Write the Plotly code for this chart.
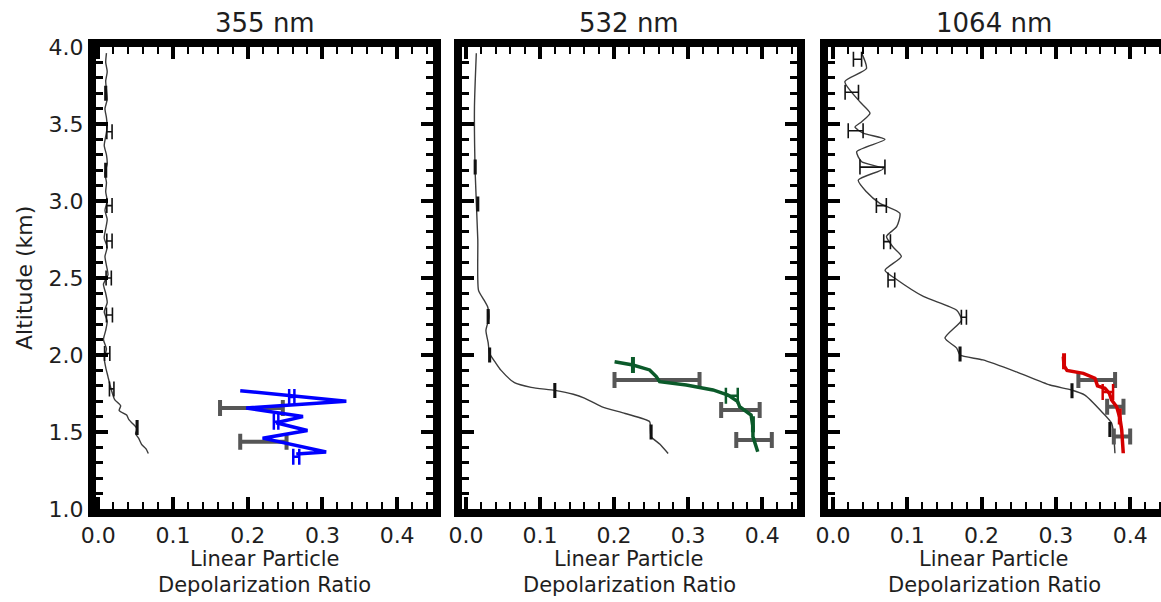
import plotly.graph_objects as go

# ---------------- data ----------------
# 355 nm: background profile (black) with its error bars
alt355_bg = [3.96, 3.90, 3.84, 3.78, 3.72, 3.66, 3.60, 3.54, 3.48, 3.42, 3.36, 3.30, 3.24, 3.18,
             3.12, 3.06, 3.00, 2.94, 2.88, 2.82, 2.76, 2.70, 2.64, 2.58, 2.52, 2.46, 2.40, 2.34,
             2.28, 2.22, 2.16, 2.10, 2.04, 1.98, 1.92, 1.86, 1.80, 1.75, 1.71, 1.67, 1.64, 1.61,
             1.58, 1.55, 1.52, 1.49, 1.46, 1.42, 1.39, 1.36]
dep355_bg = [0.011, 0.010, 0.012, 0.010, 0.011, 0.012, 0.009, 0.011, 0.012, 0.010, 0.008, 0.011,
             0.012, 0.009, 0.011, 0.010, 0.012, 0.009, 0.012, 0.010, 0.008, 0.012, 0.009, 0.011,
             0.013, 0.007, 0.010, 0.012, 0.008, 0.012, 0.010, 0.007, 0.011, 0.008, 0.010, 0.013,
             0.016, 0.019, 0.022, 0.030, 0.028, 0.038, 0.041, 0.047, 0.052, 0.050, 0.054, 0.058,
             0.064, 0.067]
alt355_err = [3.70, 3.45, 3.20, 2.97, 2.74, 2.50, 2.26, 2.01, 1.78, 1.53]
dep355_err = [0.010, 0.015, 0.010, 0.015, 0.015, 0.014, 0.015, 0.012, 0.018, 0.052]
err355_err = [0.001, 0.0035, 0.001, 0.0035, 0.0035, 0.0035, 0.004, 0.0035, 0.003, 0.001]

# 355 nm: highlighted layer (blue)
alt355 = [1.768, 1.700, 1.656, 1.600, 1.560, 1.510, 1.460, 1.370, 1.357]
dep355 = [0.190, 0.332, 0.198, 0.274, 0.238, 0.280, 0.220, 0.305, 0.265]
alt355_mark = [1.727, 1.567, 1.340]
dep355_mark = [0.259, 0.238, 0.265]
err355_mark = [0.0035, 0.003, 0.004]

# 355 nm: layer means (grey)
alt355_mean = [1.656, 1.437]
dep355_mean = [0.205, 0.221]
err355_mean = [0.042, 0.031]

# 532 nm: background profile
alt532_bg = [3.96, 3.61, 3.18, 2.75, 2.42, 2.36, 2.31, 2.24, 2.16, 2.08, 2.01, 1.95, 1.90,
             1.82, 1.79, 1.77, 1.745, 1.72, 1.665, 1.62, 1.567, 1.52, 1.47, 1.42, 1.36]
dep532_bg = [0.014, 0.0115, 0.0125, 0.016, 0.017, 0.024, 0.0295, 0.031, 0.027, 0.030, 0.032,
             0.040, 0.0475, 0.0655, 0.088, 0.120, 0.145, 0.160, 0.183, 0.215, 0.248, 0.249,
             0.250, 0.262, 0.273]
alt532_err = [3.22, 2.98, 2.25, 2.00, 1.77, 1.50]
dep532_err = [0.0125, 0.016, 0.030, 0.032, 0.120, 0.250]
err532_err = [0.001, 0.001, 0.001, 0.001, 0.001, 0.001]

# 532 nm: highlighted layer (green)
alt532 = [1.956, 1.935, 1.903, 1.860, 1.827, 1.805, 1.773, 1.740, 1.697, 1.665, 1.610,
          1.535, 1.470, 1.372]
dep532 = [0.2007, 0.2255, 0.248, 0.257, 0.2615, 0.2975, 0.3335, 0.354, 0.367, 0.3695,
          0.385, 0.3875, 0.3875, 0.394]
alt532_mark = [1.935, 1.736, 1.550]
dep532_mark = [0.2255, 0.359, 0.3875]
err532_mark = [0.001, 0.008, 0.001]

alt532_mean = [1.838, 1.643, 1.448]
dep532_mean = [0.258, 0.3706, 0.389]
err532_mean = [0.0574, 0.026, 0.024]

# 1064 nm: background profile
alt1064_bg = [3.96, 3.86, 3.775, 3.645, 3.57, 3.515, 3.48, 3.44, 3.40, 3.32, 3.255, 3.21,
              3.136, 3.06, 2.985, 2.92, 2.833, 2.77, 2.70, 2.64, 2.55, 2.49, 2.38, 2.29,
              2.227, 2.11, 2.045, 2.00, 1.968, 1.89, 1.805, 1.773, 1.74, 1.632, 1.556, 1.362]
dep1064_bg = [0.0386, 0.045, 0.016, 0.036, 0.0498, 0.0386, 0.0296, 0.0408, 0.070, 0.0319,
              0.0386, 0.0678, 0.034, 0.045, 0.063, 0.090, 0.0857, 0.072, 0.081, 0.092, 0.070,
              0.0857, 0.1216, 0.1665, 0.173, 0.1507, 0.1665, 0.171, 0.2019, 0.247, 0.292,
              0.321, 0.339, 0.3617, 0.3751, 0.3795]
alt1064_err = [3.92, 3.706, 3.456, 3.22, 2.97, 2.736, 2.487, 2.245, 2.006, 1.768, 1.517]
dep1064_err = [0.033, 0.0253, 0.0305, 0.0531, 0.0651, 0.0728, 0.0786, 0.1762, 0.171,
               0.3217, 0.3727]
err1064_err = [0.0055, 0.009, 0.010, 0.0168, 0.0067, 0.0045, 0.0045, 0.0034, 0.001,
               0.001, 0.001]

# 1064 nm: highlighted layer (red)
alt1064 = [1.989, 1.930, 1.900, 1.881, 1.849, 1.800, 1.784, 1.751, 1.708, 1.664, 1.589,
           1.513, 1.362]
dep1064 = [0.310, 0.311, 0.315, 0.337, 0.3526, 0.356, 0.366, 0.372, 0.375, 0.3818, 0.3863,
           0.3886, 0.3907]
alt1064_mark = [1.960, 1.760, 1.600]
dep1064_mark = [0.311, 0.370, 0.386]
err1064_mark = [0.001, 0.007, 0.001]

alt1064_mean = [1.838, 1.664, 1.470]
dep1064_mean = [0.355, 0.380, 0.389]
err1064_mean = [0.0247, 0.011, 0.011]

panel_titles = ["355 nm", "532 nm", "1064 nm"]
layer_colors = ["#0000ff", "#0b5a2a", "#d40000"]

# ---------------- figure ----------------
W, H = 1161, 602
FONT = "DejaVu Sans"
TXT = "#1e1e1e"

def px_x(p):
    return p / W

def px_y(p):
    return 1 - p / H

x_domains = [(px_x(96), px_x(433)), (px_x(461.5), px_x(797)), (px_x(827.5), 1.0)]
x_ranges = [(-0.003, 0.448), (-0.006, 0.447), (-0.0074, 0.4415)]
y_domain = (px_y(509), px_y(47))

panels = [
    (alt355_bg, dep355_bg, alt355_err, dep355_err, err355_err,
     alt355, dep355, alt355_mark, dep355_mark, err355_mark,
     alt355_mean, dep355_mean, err355_mean),
    (alt532_bg, dep532_bg, alt532_err, dep532_err, err532_err,
     alt532, dep532, alt532_mark, dep532_mark, err532_mark,
     alt532_mean, dep532_mean, err532_mean),
    (alt1064_bg, dep1064_bg, alt1064_err, dep1064_err, err1064_err,
     alt1064, dep1064, alt1064_mark, dep1064_mark, err1064_mark,
     alt1064_mean, dep1064_mean, err1064_mean),
]

fig = go.Figure()
clear = "rgba(0,0,0,0)"

for i, (abg, dbg, aerr, derr, eerr, alay, dlay, amk, dmk, emk, amn, dmn, emn) in enumerate(panels):
    xa = "x" if i == 0 else f"x{i + 1}"
    ya = "y" if i == 0 else f"y{i + 1}"
    col = layer_colors[i]
    # background profile
    fig.add_trace(go.Scatter(x=dbg, y=abg, mode="lines", xaxis=xa, yaxis=ya,
                             line=dict(color="#3c3c3c", width=1.4, shape="spline",
                                       smoothing=0.6),
                             showlegend=False))
    fig.add_trace(go.Scatter(x=derr, y=aerr, mode="markers", xaxis=xa, yaxis=ya,
                             marker=dict(color=clear, size=1),
                             error_x=dict(type="data", array=eerr, color="#111111",
                                          thickness=1.6, width=7.5),
                             showlegend=False))
    # layer mean values with spread
    fig.add_trace(go.Scatter(x=dmn, y=amn, mode="markers", xaxis=xa, yaxis=ya,
                             marker=dict(color=clear, size=1),
                             error_x=dict(type="data", array=emn, color="#565656",
                                          thickness=4, width=8),
                             showlegend=False))
    # layer profile
    fig.add_trace(go.Scatter(x=dlay, y=alay, mode="lines", xaxis=xa, yaxis=ya,
                             line=dict(color=col, width=3.5), showlegend=False))
    fig.add_trace(go.Scatter(x=dmk, y=amk, mode="markers", xaxis=xa, yaxis=ya,
                             marker=dict(color=clear, size=1),
                             error_x=dict(type="data", array=emk, color=col,
                                          thickness=2.5, width=8),
                             showlegend=False))

tickfont = dict(family=FONT, size=22, color=TXT)
common_x = dict(showline=True, linewidth=8, linecolor="black", mirror="ticks",
                ticks="inside", ticklen=12, tickwidth=4, tickcolor="black",
                tick0=0, dtick=0.1, tickformat=".1f", showgrid=False, zeroline=False,
                tickfont=tickfont,
                minor=dict(ticks="inside", dtick=0.02, tick0=0, ticklen=7, tickwidth=2,
                           tickcolor="black", showgrid=False))
common_y = dict(range=[1.0, 4.0], domain=list(y_domain), showline=True, linewidth=8,
                linecolor="black", ticks="inside", ticklen=12, tickwidth=4,
                tickcolor="black", tick0=1.0, dtick=0.5, tickformat=".1f", showgrid=False,
                zeroline=False, tickfont=tickfont,
                minor=dict(ticks="inside", dtick=0.1, tick0=1.0, ticklen=7, tickwidth=3,
                           tickcolor="black", showgrid=False))

layout = dict(width=W, height=H, margin=dict(l=0, r=0, t=0, b=0),
              paper_bgcolor="white", plot_bgcolor="white", template="none",
              showlegend=False)
for i in range(3):
    xk = "xaxis" if i == 0 else f"xaxis{i + 1}"
    yk = "yaxis" if i == 0 else f"yaxis{i + 1}"
    ya = "y" if i == 0 else f"y{i + 1}"
    xa = "x" if i == 0 else f"x{i + 1}"
    layout[xk] = dict(common_x, domain=list(x_domains[i]), range=list(x_ranges[i]),
                      anchor=ya)
    layout[yk] = dict(common_y, anchor=xa, mirror=("ticks" if i < 2 else False),
                      showticklabels=(i == 0))
# right-hand tick marks of the last panel, which runs to the edge of the page
layout["yaxis4"] = dict(common_y, overlaying="y3", anchor="x3", side="right",
                        showline=False, showticklabels=False)

annotations = []
for i in range(3):
    cx = (x_domains[i][0] + x_domains[i][1]) / 2
    annotations.append(dict(text=panel_titles[i], x=cx, y=px_y(23), xref="paper",
                            yref="paper", showarrow=False, xanchor="center",
                            yanchor="middle", font=dict(family=FONT, size=26, color=TXT)))
    annotations.append(dict(text="Linear Particle", x=cx, y=px_y(559), xref="paper",
                            yref="paper", showarrow=False, xanchor="center",
                            yanchor="middle", borderpad=0,
                            font=dict(family=FONT, size=21, color=TXT)))
    annotations.append(dict(text="Depolarization Ratio", x=cx, y=px_y(585), xref="paper",
                            yref="paper", showarrow=False, xanchor="center",
                            yanchor="middle", borderpad=0,
                            font=dict(family=FONT, size=21, color=TXT)))
annotations.append(dict(text="Altitude (km)", x=px_x(24), y=px_y(278), xref="paper",
                        yref="paper", showarrow=False, textangle=-90, xanchor="center",
                        yanchor="middle", font=dict(family=FONT, size=22, color=TXT)))
layout["annotations"] = annotations

fig.update_layout(**layout)
fig.write_html("out.html")
